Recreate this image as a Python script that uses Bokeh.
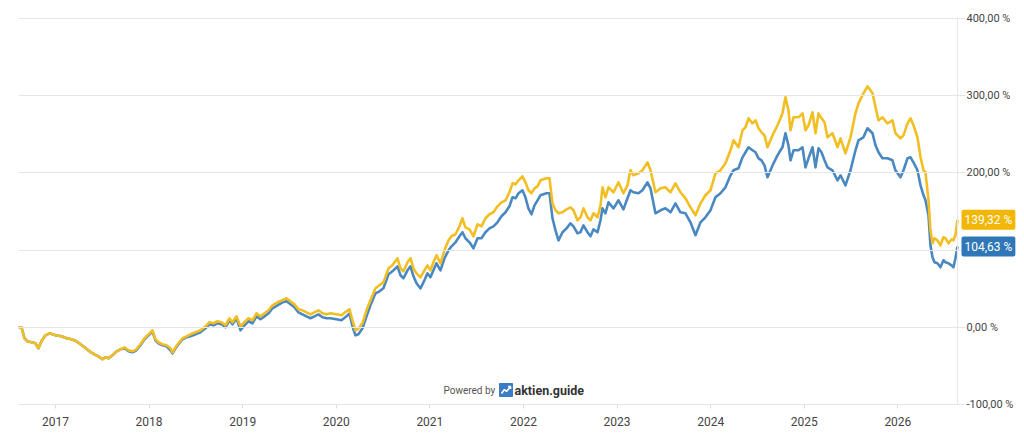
from bokeh.plotting import figure
from bokeh.models import Range1d, FixedTicker, LinearAxis, Label
from bokeh.embed import file_html
from bokeh.resources import INLINE

# ---------------- data ----------------
dates = [
    2016.605, 2016.637, 2016.669, 2016.701, 2016.744, 2016.786, 2016.818, 2016.850, 2016.893, 2016.936,
    2017.000, 2017.064, 2017.118, 2017.171, 2017.224, 2017.267, 2017.310, 2017.363, 2017.417, 2017.459,
    2017.502, 2017.534, 2017.566, 2017.609, 2017.652, 2017.694, 2017.737, 2017.780, 2017.823, 2017.865,
    2017.908, 2017.951, 2017.994, 2018.036, 2018.068, 2018.100, 2018.143, 2018.186, 2018.229, 2018.250,
    2018.282, 2018.314, 2018.357, 2018.400, 2018.442, 2018.496, 2018.549, 2018.603, 2018.645, 2018.688,
    2018.731, 2018.774, 2018.816, 2018.859, 2018.891, 2018.934, 2018.977, 2019.019, 2019.062, 2019.105,
    2019.147, 2019.190, 2019.233, 2019.276, 2019.318, 2019.372, 2019.425, 2019.468, 2019.511, 2019.553,
    2019.596, 2019.639, 2019.682, 2019.724, 2019.767, 2019.810, 2019.853, 2019.895, 2019.938, 2020.002,
    2020.056, 2020.109, 2020.141, 2020.173, 2020.205, 2020.237, 2020.280, 2020.323, 2020.365, 2020.419,
    2020.462, 2020.504, 2020.558, 2020.600, 2020.654, 2020.686, 2020.718, 2020.761, 2020.793, 2020.825,
    2020.857, 2020.900, 2020.942, 2020.974, 2021.006, 2021.038, 2021.071, 2021.113, 2021.156, 2021.199,
    2021.231, 2021.274, 2021.316, 2021.348, 2021.380, 2021.423, 2021.466, 2021.509, 2021.551, 2021.594,
    2021.637, 2021.679, 2021.722, 2021.765, 2021.808, 2021.850, 2021.883, 2021.915, 2021.947, 2021.989,
    2022.021, 2022.053, 2022.085, 2022.118, 2022.150, 2022.182, 2022.214, 2022.246, 2022.278, 2022.310,
    2022.342, 2022.374, 2022.417, 2022.460, 2022.502, 2022.534, 2022.577, 2022.609, 2022.641, 2022.684,
    2022.716, 2022.748, 2022.791, 2022.823, 2022.844, 2022.876, 2022.908, 2022.962, 2023.015, 2023.068,
    2023.111, 2023.143, 2023.175, 2023.229, 2023.271, 2023.325, 2023.357, 2023.410, 2023.464, 2023.517,
    2023.571, 2023.624, 2023.677, 2023.731, 2023.784, 2023.838, 2023.891, 2023.944, 2023.998, 2024.051,
    2024.105, 2024.158, 2024.212, 2024.244, 2024.297, 2024.340, 2024.372, 2024.404, 2024.447, 2024.479,
    2024.511, 2024.543, 2024.575, 2024.607, 2024.639, 2024.671, 2024.714, 2024.746, 2024.767, 2024.799,
    2024.831, 2024.853, 2024.885, 2024.938, 2024.981, 2025.013, 2025.045, 2025.088, 2025.120, 2025.152,
    2025.184, 2025.216, 2025.248, 2025.301, 2025.355, 2025.387, 2025.440, 2025.494, 2025.547, 2025.579,
    2025.632, 2025.675, 2025.729, 2025.761, 2025.793, 2025.835, 2025.889, 2025.942, 2025.974, 2026.028,
    2026.060, 2026.103, 2026.135, 2026.167, 2026.209, 2026.242, 2026.274, 2026.295, 2026.327, 2026.348,
    2026.370, 2026.391, 2026.423, 2026.455, 2026.487, 2026.509, 2026.541, 2026.573, 2026.594, 2026.615,
    2026.637,
]

# yellow series (%)
yellow = [
    0, 0, -14.2, -18.1, -19.4, -20.7, -27.2, -18.1, -10.4, -7.8,
    -10.4, -11.7, -14.2, -15.5, -18.1, -22.0, -25.9, -31.1, -35.0, -37.6,
    -41.4, -38.9, -40.2, -36.3, -31.1, -28.5, -25.9, -29.8, -31.1, -28.5,
    -22.0, -14.2, -9.1, -3.9, -15.5, -19.4, -22.0, -23.3, -27.2, -32.4,
    -25.9, -20.7, -14.2, -11.7, -9.1, -6.5, -3.9, 1.3, 6.5, 5.2,
    7.8, 6.5, 2.6, 11.7, 6.5, 14.2, 1.3, 6.5, 11.7, 9.1,
    18.1, 14.2, 18.1, 22.0, 28.5, 32.4, 35.0, 37.6, 33.7, 29.8,
    23.3, 22.0, 19.4, 16.8, 19.4, 22.0, 18.1, 16.8, 18.1, 16.8,
    15.5, 20.7, 23.3, 9.1, -3.9, -1.3, 5.2, 22.0, 35.0, 50.5,
    54.4, 58.3, 76.4, 80.3, 89.4, 76.4, 72.5, 84.2, 89.4, 76.4,
    69.9, 64.8, 73.8, 80.3, 73.8, 84.2, 93.3, 82.9, 99.7, 112.7,
    117.9, 120.5, 130.8, 141.2, 129.5, 126.9, 117.9, 133.4, 130.8, 141.2,
    146.4, 149.0, 156.7, 161.9, 164.5, 174.9, 186.5, 185.2, 190.4, 195.6,
    187.8, 177.5, 173.6, 180.0, 182.6, 190.4, 191.7, 193.0, 193.0, 160.6,
    151.6, 147.7, 149.0, 152.8, 155.4, 151.6, 138.6, 142.5, 154.1, 142.5,
    138.6, 147.7, 142.5, 158.0, 181.3, 168.4, 181.3, 174.9, 187.8, 173.6,
    183.9, 203.4, 196.9, 199.5, 203.4, 213.7, 203.4, 174.9, 180.0, 181.3,
    174.9, 186.5, 174.9, 167.1, 155.4, 145.1, 160.6, 171.0, 177.5, 199.5,
    203.4, 212.4, 229.3, 242.2, 233.2, 255.2, 259.1, 270.7, 264.2, 268.1,
    257.8, 252.6, 248.7, 233.2, 242.2, 251.3, 261.7, 270.7, 277.2, 297.9,
    281.1, 255.2, 272.0, 272.0, 277.2, 255.2, 261.7, 278.5, 251.3, 277.2,
    270.7, 265.5, 246.1, 251.3, 233.2, 244.8, 225.4, 246.1, 277.2, 290.1,
    303.1, 312.2, 303.1, 285.0, 268.1, 272.0, 264.2, 268.1, 251.3, 244.8,
    248.7, 264.2, 270.7, 261.7, 246.1, 220.2, 203.4, 200.8, 164.5, 125.6,
    108.8, 115.3, 112.7, 106.2, 116.6, 115.3, 108.8, 114.0, 112.7, 119.2,
    139.32,
]

# blue series (%)
blue = [
    0, 0, -14.2, -18.1, -19.4, -20.7, -27.2, -18.1, -10.4, -7.8,
    -10.4, -11.7, -14.2, -15.5, -18.1, -22.0, -25.9, -31.1, -35.0, -37.6,
    -41.4, -38.9, -40.2, -36.3, -31.1, -28.5, -27.2, -31.1, -32.4, -29.8,
    -23.3, -15.5, -10.4, -5.2, -16.8, -20.7, -23.3, -24.6, -29.8, -33.7,
    -27.2, -22.0, -15.5, -13.0, -11.7, -9.1, -6.5, -1.3, 3.9, 2.6,
    5.2, 3.9, 0, 9.1, 3.9, 11.7, -3.9, 2.6, 7.8, 5.2,
    14.2, 10.4, 14.2, 18.1, 24.6, 28.5, 32.4, 33.7, 29.8, 25.9,
    19.4, 16.8, 14.2, 11.7, 14.2, 16.8, 13.0, 11.7, 11.7, 10.4,
    9.1, 14.2, 18.1, 1.3, -10.4, -9.1, -1.3, 14.2, 28.5, 44.0,
    46.6, 50.5, 68.7, 72.5, 79.0, 67.4, 63.5, 73.8, 79.0, 66.1,
    57.0, 50.5, 60.9, 69.9, 64.8, 73.8, 82.9, 73.8, 89.4, 99.7,
    104.9, 110.1, 117.9, 123.1, 115.3, 110.1, 102.3, 115.3, 115.3, 123.1,
    128.2, 130.8, 136.0, 143.8, 149.0, 156.7, 168.4, 167.1, 173.6, 177.5,
    168.4, 154.1, 146.4, 158.0, 164.5, 171.0, 172.3, 173.6, 173.6, 141.2,
    125.6, 112.7, 123.1, 128.2, 134.7, 130.8, 121.8, 123.1, 132.1, 123.1,
    117.9, 126.9, 123.1, 138.6, 154.1, 147.7, 161.9, 154.1, 164.5, 152.8,
    167.1, 177.5, 174.9, 173.6, 177.5, 187.8, 180.0, 147.7, 151.6, 154.1,
    149.0, 160.6, 149.0, 147.7, 136.0, 119.2, 136.0, 142.5, 151.6, 168.4,
    173.6, 181.3, 196.9, 203.4, 206.0, 220.2, 226.7, 233.2, 229.3, 226.7,
    218.9, 216.3, 209.8, 194.3, 203.4, 212.4, 222.8, 229.3, 233.2, 251.3,
    235.7, 216.3, 229.3, 229.3, 233.2, 207.2, 218.9, 233.2, 207.2, 231.9,
    226.7, 216.3, 207.2, 203.4, 190.4, 196.9, 183.9, 203.4, 229.3, 242.2,
    246.1, 257.8, 251.3, 235.7, 226.7, 218.9, 218.9, 216.3, 203.4, 194.3,
    203.4, 218.9, 220.2, 213.7, 203.4, 183.9, 171.0, 164.5, 145.1, 106.2,
    90.7, 84.2, 82.9, 77.7, 86.8, 84.2, 82.9, 80.3, 77.7, 89.4,
    104.63,
]

year_ticks = [2017, 2018, 2019, 2020, 2021, 2022, 2023, 2024, 2025, 2026]
pct_ticks = [-100, 0, 100, 200, 300, 400]

YELLOW_LINE = "#F2BE22"
BLUE_LINE = "#4A88C2"
YELLOW_TAG = "#F2B705"
BLUE_TAG = "#2F77B7"
GRID = "#e6e6e6"
FONT = "Roboto"

# layout (pixels): the line area spans x 18..957 and y 18..404 of the canvas
W, H = 1016, 434
LEFT, TOP, BOTTOM = 18, 18, 404
PLOT_W = 939
PLOT_H = BOTTOM - TOP
Y_MIN, Y_MAX = pct_ticks[0], pct_ticks[-1]


def fmt_pct(v):
    return f"{v:,.2f}".replace(",", "X").replace(".", ",").replace("X", ".") + " %"


span = dates[-1] - dates[0]
ppu = PLOT_H / (Y_MAX - Y_MIN)   # pixels per percent
p = figure(
    width=W, height=H,
    x_range=Range1d(dates[0], dates[-1] + span * (W - LEFT - PLOT_W) / PLOT_W),
    y_range=Range1d(Y_MIN - (H - BOTTOM) / ppu, Y_MAX + TOP / ppu),
    output_backend="svg", toolbar_location=None,
    y_axis_location=None,
    min_border_left=LEFT, min_border_top=0, min_border_right=0, min_border_bottom=0,
)
p.outline_line_color = None
p.background_fill_color = "white"
p.border_fill_color = "white"
p.xgrid.grid_line_color = None
p.ygrid.grid_line_color = None

# value axis on the right, pinned at the end of the data; its inward ticks form the grid
ry = LinearAxis(ticker=FixedTicker(ticks=pct_ticks), fixed_location=dates[-1],
                bounds=(Y_MIN, Y_MAX))
ry.major_label_overrides = {t: fmt_pct(t) for t in pct_ticks}
ry.axis_line_color = GRID
ry.major_tick_line_color = GRID
ry.major_tick_out = 8
ry.major_tick_in = PLOT_W
ry.minor_tick_line_color = None
ry.major_label_standoff = 1
ry.major_label_text_font = FONT
ry.major_label_text_font_size = "11px"
ry.major_label_text_color = "#444444"
p.add_layout(ry, "right")

# time axis, pinned at the bottom of the value range
xa = p.xaxis[0]
xa.fixed_location = Y_MIN
xa.ticker = FixedTicker(ticks=year_ticks)
xa.bounds = (dates[0], dates[-1])
xa.major_label_overrides = {t: str(t) for t in year_ticks}
xa.axis_line_color = "#dddddd"
xa.major_tick_line_color = "#dddddd"
xa.major_tick_out = 4
xa.major_tick_in = 0
xa.minor_tick_line_color = None
xa.major_label_standoff = 8
xa.major_label_text_font = FONT
xa.major_label_text_font_size = "12px"
xa.major_label_text_color = "#444444"

p.line(dates, blue, line_color=BLUE_LINE, line_width=2.6, line_join="round")
p.line(dates, yellow, line_color=YELLOW_LINE, line_width=2.6, line_join="round")

# end value tags
for val, col in ((yellow[-1], YELLOW_TAG), (blue[-1], BLUE_TAG)):
    p.add_layout(Label(
        x=dates[-1], y=val, x_offset=4, text=fmt_pct(val),
        text_font=FONT, text_font_size="12px", text_color="white",
        text_align="left", text_baseline="middle",
        background_fill_color=col, padding=3, border_radius=2,
    ))


# branding ("Powered by aktien.guide") placed by canvas pixel
def px_x(px):
    return dates[0] + (px - LEFT) * span / PLOT_W


def px_y(py):
    return Y_MAX - (py - TOP) / ppu


p.add_layout(Label(x=px_x(443), y=px_y(390), text="Powered by", text_font=FONT,
                   text_font_size="10px", text_color="#555555",
                   text_align="left", text_baseline="middle"))
p.add_layout(Label(x=px_x(514), y=px_y(390), text="aktien.guide", text_font=FONT,
                   text_font_size="12.5px", text_font_style="bold", text_color="#333333",
                   text_align="left", text_baseline="middle"))
p.scatter([px_x(505.5)], [px_y(389.5)], marker="square", size=13,
          fill_color="#3B7DC4", line_color="#3B7DC4")
p.line([px_x(501), px_x(504), px_x(506), px_x(510)],
       [px_y(393), px_y(389), px_y(391), px_y(386)],
       line_color="white", line_width=1.6)
p.line([px_x(507.5), px_x(510), px_x(510)],
       [px_y(386), px_y(386), px_y(388.5)],
       line_color="white", line_width=1.6)

open("out.html", "w").write(file_html(p, INLINE))
